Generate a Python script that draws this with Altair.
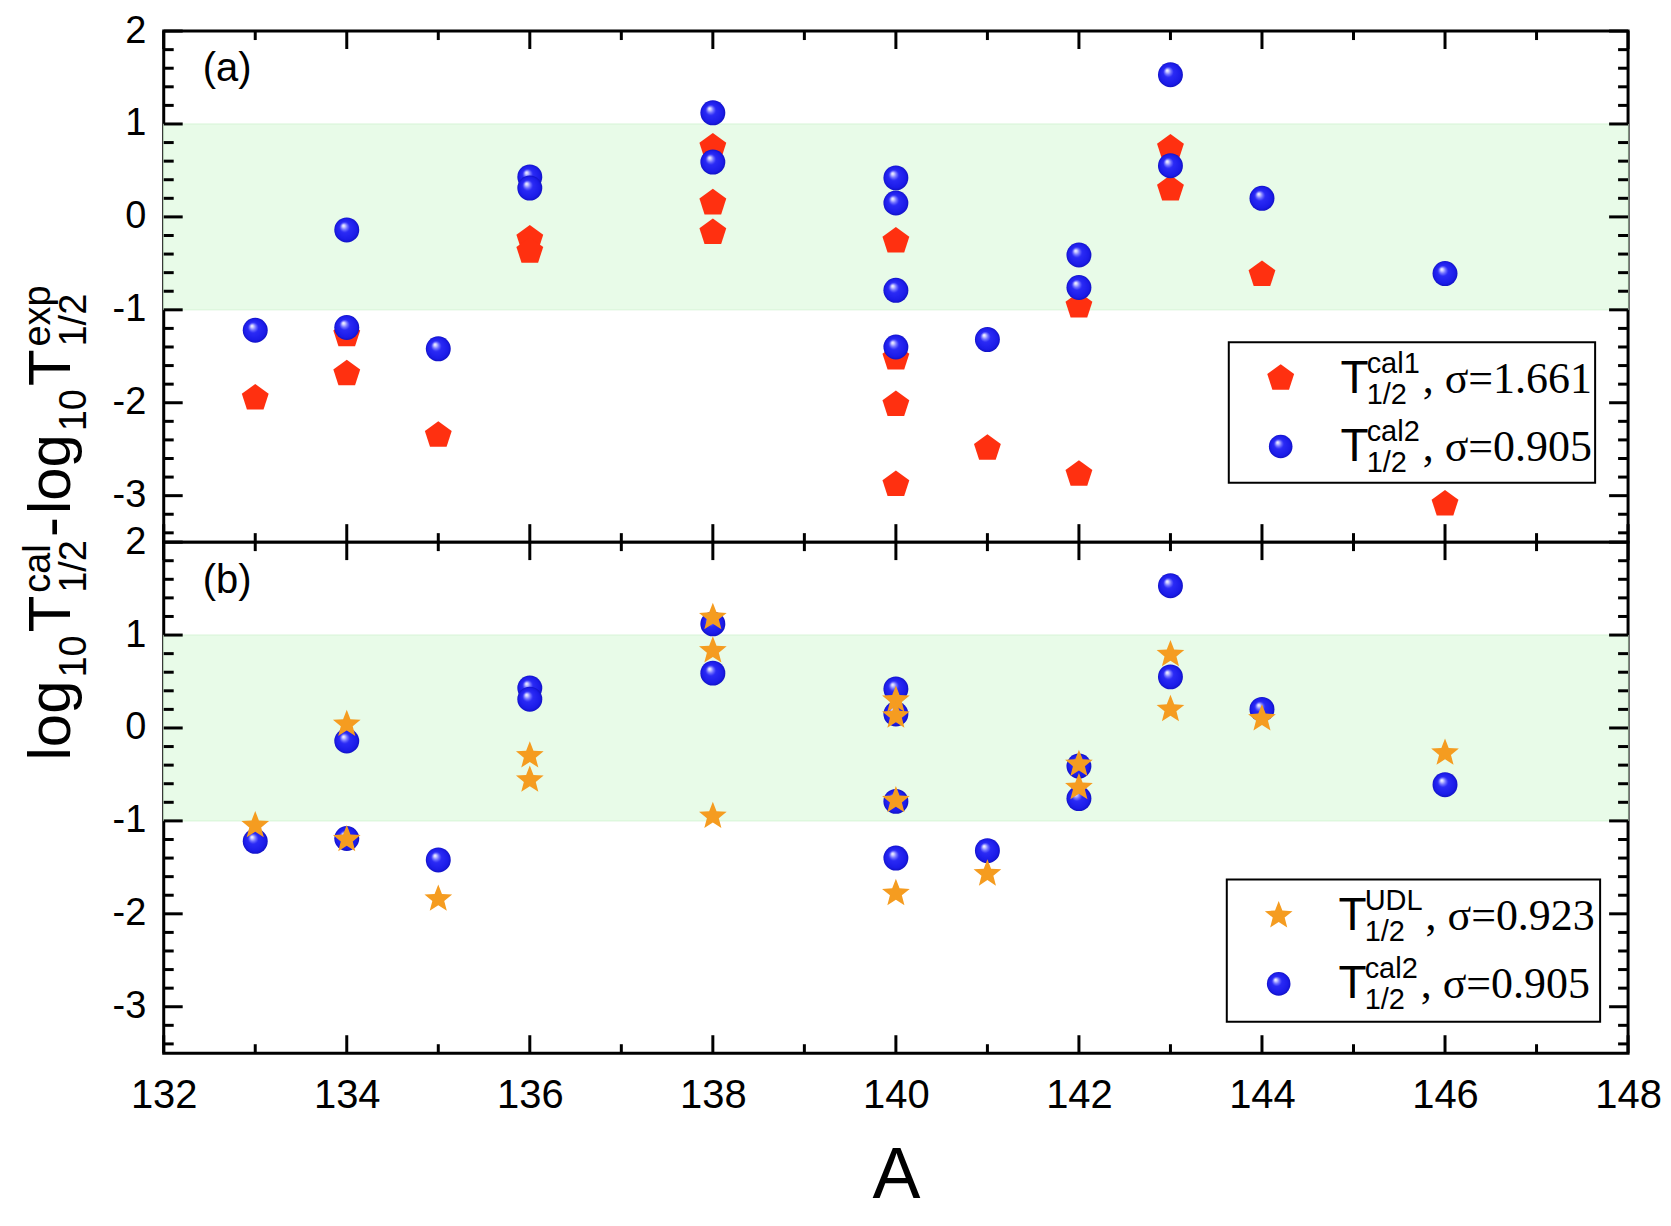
import math
import altair as alt
import pandas as pd

# ---------------- data ----------------
A_CAL1 = [133, 134, 134, 135, 136, 136, 138, 138, 138, 140, 140, 140, 140,
          141, 142, 142, 143, 143, 144, 146]
V_CAL1 = [-1.95, -1.27, -1.69, -2.35, -0.24, -0.37, 0.75, 0.15, -0.17, -0.26,
          -1.52, -2.02, -2.88, -2.49, -0.96, -2.77, 0.74, 0.30, -0.62, -3.09]

A_CAL2 = [133, 134, 134, 135, 136, 136, 138, 138, 140, 140, 140, 140,
          141, 142, 142, 143, 143, 144, 146]
V_CAL2 = [-1.22, -0.14, -1.19, -1.42, 0.43, 0.31, 1.12, 0.59, 0.42, 0.15,
          -0.79, -1.40, -1.32, -0.41, -0.76, 1.53, 0.55, 0.20, -0.61]

A_UDL = [133, 134, 134, 135, 136, 136, 138, 138, 138, 140, 140, 140, 140,
         141, 142, 142, 143, 143, 144, 146]
V_UDL = [-1.05, 0.04, -1.20, -1.84, -0.30, -0.56, 1.19, 0.83, -0.95, 0.30,
         0.13, -0.78, -1.78, -1.57, -0.39, -0.64, 0.79, 0.20, 0.10, -0.27]

X_LABELS = [132, 134, 136, 138, 140, 142, 144, 146, 148]
X_MINOR = [133, 135, 137, 139, 141, 143, 145, 147]
Y_LABELS = [-3, -2, -1, 0, 1, 2]
Y_MINOR = [-3.4, -3.2, -2.8, -2.6, -2.4, -2.2, -1.8, -1.6, -1.4, -1.2,
           -0.8, -0.6, -0.4, -0.2, 0.2, 0.4, 0.6, 0.8, 1.2, 1.4, 1.6, 1.8]
BAND = [-1, 1]

SIGMA_CAL1 = "1.661"
SIGMA_CAL2 = "0.905"
SIGMA_UDL = "0.923"

# ---------------- styling ----------------
SANS = "Liberation Sans"
SERIF = "Liberation Serif"
W, H = 1467, 512
x_scale = alt.Scale(domain=[132, 148], nice=False, zero=False)
y_scale = alt.Scale(domain=[-3.5, 2], nice=False, zero=False)

RED = "#FF3010"
ORANGE = "#F59C20"
sphere = alt.RadialGradient(
    gradient="radial", x1=0.36, y1=0.32, r1=0.0, x2=0.5, y2=0.5, r2=0.5,
    stops=[alt.GradientStop(offset=0.0, color="#FFFFFF"),
           alt.GradientStop(offset=0.10, color="#D4D4FF"),
           alt.GradientStop(offset=0.26, color="#7070FF"),
           alt.GradientStop(offset=0.42, color="#2A2AF5"),
           alt.GradientStop(offset=0.85, color="#1B1BE8"),
           alt.GradientStop(offset=1.0, color="#1212C4")])

PENTAGON = "M0,-1L0.951,-0.309L0.588,0.809L-0.588,0.809L-0.951,-0.309Z"
_pts = []
for k in range(10):
    ang = math.radians(-90 + 36 * k)
    r = 1.0 if k % 2 == 0 else 0.43
    _pts.append(f"{r * math.cos(ang):.3f},{r * math.sin(ang):.3f}")
STAR = "M" + "L".join(_pts) + "Z"

SYM_SIZE = 800
STAR_SIZE = 850
SPH_SIZE = 625

ONE = pd.DataFrame({"k": [0]})

# Arial / Liberation Sans advance widths (per 1000 em)
AW = {'l': 222, 'o': 556, 'g': 556, '1': 556, '0': 556, 'T': 611, 'c': 500,
      'a': 556, '/': 278, '2': 556, '-': 333, 'e': 556, 'x': 500, 'p': 556,
      'U': 722, 'D': 722, 'L': 556}


def tw(s, fs):
    return sum(AW[c] for c in s) * fs / 1000.0


def txt(s, x, y, size, font=SANS, angle=0, align="left", baseline="alphabetic"):
    return alt.Chart(ONE).mark_text(
        text=s, fontSize=size, font=font, angle=angle, align=align,
        baseline=baseline, color="black"
    ).encode(x=alt.value(x), y=alt.value(y))


y_axis = alt.Axis(values=Y_LABELS, labelExpr="'' + datum.value", labelFontSize=38,
                  labelFont=SANS, labelColor="black", labelPadding=18,
                  ticks=False, domain=False, grid=False, title=None,
                  labelOverlap=False, labelFlush=False)
x_axis_b = alt.Axis(values=X_LABELS, labelExpr="'' + datum.value", labelFontSize=40,
                    labelFont=SANS, labelColor="black", labelPadding=22,
                    ticks=False, domain=False, grid=False, title="A",
                    titleFont=SANS, titleFontSize=72, titleFontWeight="normal",
                    titleColor="black", titlePadding=26,
                    labelOverlap=False, labelFlush=False)


def X(field, xa):
    if xa is None:
        return alt.X(field, scale=x_scale, axis=None)
    return alt.X(field, scale=x_scale, axis=xa)


def Y(field):
    return alt.Y(field, scale=y_scale, axis=y_axis)


def tick_layers(xa):
    layers = []
    for vals, L in ((Y_LABELS, 19), (Y_MINOR, 10)):
        df = pd.DataFrame({"v": vals})
        for x0, x1 in ((0, L), (W, W - L)):
            layers.append(alt.Chart(df).mark_rule(color="black", strokeWidth=3).encode(
                y=Y("v:Q"), x=alt.value(x0), x2=alt.value(x1)))
    for vals, L in ((X_LABELS, 18), (X_MINOR, 9)):
        df = pd.DataFrame({"v": vals})
        for y0, y1 in ((H, H - L), (0, L)):
            layers.append(alt.Chart(df).mark_rule(color="black", strokeWidth=3).encode(
                x=X("v:Q", xa), y=alt.value(y0), y2=alt.value(y1)))
    return layers


def series(A, V, shape, size, fill, xa):
    return alt.Chart(pd.DataFrame({"A": A, "v": V})).mark_point(
        shape=shape, size=size, filled=True, fill=fill, opacity=1, strokeWidth=0
    ).encode(x=X("A:Q", xa), y=Y("v:Q"))


def legend(box, rows):
    x0, x1, y0, y1 = box
    layers = [alt.Chart(ONE).mark_rect(fill="white", stroke="black", strokeWidth=2).encode(
        x=alt.value(x0), x2=alt.value(x1), y=alt.value(y0), y2=alt.value(y1))]
    for i, (shape, size, fill, sup, sigma) in enumerate(rows):
        base = y0 + 50.7 + i * 68.3
        sym_y = base - 14.5
        layers.append(alt.Chart(ONE).mark_point(
            shape=shape, size=size, filled=True, fill=fill, opacity=1, strokeWidth=0
        ).encode(x=alt.value(x0 + 52), y=alt.value(sym_y)))
        tx = x0 + 112
        layers.append(txt("T", tx, base, 46))
        sx = tx + tw("T", 46) - 2
        layers.append(txt(sup, sx, base - 20, 29))
        layers.append(txt("1/2", sx, base + 11, 29))
        rx = sx + max(tw(sup, 29), tw("1/2", 29)) + 3
        layers.append(txt(", \u03c3=" + sigma, rx, base, 44, font=SERIF))
    return layers


def ytitle():
    MAIN, SCR, GAP = 60, 38, 3
    xb, xsub, xsup = -94, -78, -114
    y = 730.7
    layers = []
    seq = [("log", None), ("10", "sub"), ("T", None), (("cal", "1/2"), "ss"),
           ("-", None), ("log", None), ("10", "sub"), ("T", None),
           (("exp", "1/2"), "ss")]
    for s, kind in seq:
        if kind is None:
            layers.append(txt(s, xb, y, MAIN, angle=270))
            y -= tw(s, MAIN) + GAP
        elif kind == "sub":
            layers.append(txt(s, xsub, y, SCR, angle=270))
            y -= tw(s, SCR) + GAP
        else:
            sup, sub = s
            layers.append(txt(sup, xsup, y, SCR, angle=270))
            layers.append(txt(sub, xsub, y, SCR, angle=270))
            y -= max(tw(sup, SCR), tw(sub, SCR)) + GAP
    return layers


def band_layer(xa):
    df = pd.DataFrame({"x0": [132], "x1": [148], "y0": [BAND[0]], "y1": [BAND[1]]})
    return alt.Chart(df).mark_rect(fill="#E8FBE8", stroke="#D6F4D6", strokeWidth=1).encode(
        x=X("x0:Q", xa), x2="x1", y=Y("y0:Q"), y2="y1")


panel_a = alt.layer(
    band_layer(None),
    *tick_layers(None),
    series(A_CAL1, V_CAL1, PENTAGON, SYM_SIZE, RED, None),
    series(A_CAL2, V_CAL2, "circle", SPH_SIZE, sphere, None),
    txt("(a)", 39, 50, 40),
    *legend((1067, 1434, 311.7, 452.4),
            [(PENTAGON, 800, RED, "cal1", SIGMA_CAL1),
             ("circle", 560, sphere, "cal2", SIGMA_CAL2)]),
    *ytitle(),
).properties(width=W, height=H)

panel_b = alt.layer(
    band_layer(x_axis_b),
    *tick_layers(x_axis_b),
    series(A_CAL2, V_CAL2, "circle", SPH_SIZE, sphere, x_axis_b),
    series(A_UDL, V_UDL, STAR, STAR_SIZE, ORANGE, x_axis_b),
    txt("(b)", 39, 51, 40),
    *legend((1065, 1439, 338, 480.4),
            [(STAR, 850, ORANGE, "UDL", SIGMA_UDL),
             ("circle", 560, sphere, "cal2", SIGMA_CAL2)]),
).properties(width=W, height=H)

chart = alt.vconcat(panel_a, panel_b, spacing=0, bounds="flush").properties(
    padding={"left": 10, "top": 1, "right": 0, "bottom": 0},
    background="white",
).configure_view(stroke="black", strokeWidth=3)

chart.save("out.html", embed_options={"renderer": "svg", "actions": False})
